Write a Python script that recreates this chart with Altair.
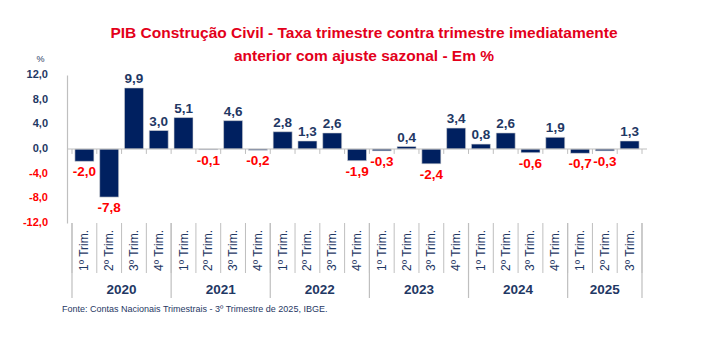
import altair as alt
import pandas as pd

years = ["2020", "2021", "2022", "2023", "2024", "2025"]
quarters_per_year = [4, 4, 4, 4, 4, 3]
quarter_names = ["1º Trim.", "2º Trim.", "3º Trim.", "4º Trim."]
values = [-2.0, -7.8, 9.9, 3.0,
          5.1, -0.1, 4.6, -0.2,
          2.8, 1.3, 2.6, -1.9,
          -0.3, 0.4, -2.4, 3.4,
          0.8, 2.6, -0.6, 1.9,
          -0.7, -0.3, 1.3]
y_ticks = [12, 8, 4, 0, -4, -8, -12]

FONT = "Liberation Sans Narrow, Arial Narrow, Liberation Sans, Arial, sans-serif"
NAVY = "#002060"
LBLUE = "#1F3864"
RED = "#FF0000"
GRAY = "#BFBFBF"

rows = []
year_rows = []
i = 0
for y, n in zip(years, quarters_per_year):
    start = i
    for q in range(n):
        rows.append({"pos": i + 0.5, "value": values[i], "quarter": quarter_names[q], "year": y})
        i += 1
    year_rows.append({"year": y, "mid": (start + i) / 2})
df = pd.DataFrame(rows)
ydf = pd.DataFrame(year_rows)
bdf = pd.DataFrame({"b": list(range(0, i + 1))})
year_bounds = [0]
acc = 0
for n in quarters_per_year:
    acc += n
    year_bounds.append(acc)
ybdf = pd.DataFrame({"b": year_bounds})
tdf = pd.DataFrame({"value": y_ticks})

H = 148
xscale = alt.Scale(domain=[0, i], nice=False, zero=False)
yscale = alt.Scale(domain=[-12, 12], nice=False)

fmt = "replace(replace(format(datum.value, '.1f'), '.', ','), '\u2212', '-')"

yaxis = alt.Axis(values=y_ticks, title="%", titleAngle=0, titleX=-27, titleY=-12,
                 titleFont=FONT, titleFontSize=9, titleFontWeight="normal", titleColor=LBLUE,
                 labels=False, ticks=False, grid=False, domainColor=GRAY, domainWidth=1.2)

base = alt.Chart(df)

bars = base.mark_bar(size=19, color=NAVY, stroke="#D9D9D9", strokeWidth=0.6, orient="vertical").encode(
    x=alt.X("pos:Q", scale=xscale, axis=None),
    y=alt.Y("value:Q", scale=yscale, axis=yaxis),
    y2=alt.datum(0),
)

ylabels = alt.Chart(tdf).transform_calculate(lbl=fmt).mark_text(
    align="right", baseline="middle", font=FONT, fontSize=11, fontWeight="bold"
).encode(
    x=alt.value(-19),
    y=alt.Y("value:Q", scale=yscale, axis=yaxis),
    text="lbl:N",
    color=alt.condition("datum.value < 0", alt.value(RED), alt.value(LBLUE)),
)

zero_line = alt.Chart(pd.DataFrame({"z": [0]})).mark_rule(color=GRAY, strokeWidth=1.2).encode(
    y=alt.Y("z:Q", scale=yscale, axis=yaxis),
    x=alt.value(0), x2=alt.value(580),
)

zero_ticks = alt.Chart(bdf).mark_rule(color=GRAY, strokeWidth=1).encode(
    x=alt.X("b:Q", scale=xscale, axis=None),
    y=alt.datum(0), y2=alt.datum(-0.8),
)

q_sep = alt.Chart(bdf).mark_rule(color=GRAY, strokeWidth=1).encode(
    x=alt.X("b:Q", scale=xscale, axis=None),
    y=alt.value(H), y2=alt.value(H + 50),
)
y_sep = alt.Chart(ybdf).mark_rule(color=GRAY, strokeWidth=1.2).encode(
    x=alt.X("b:Q", scale=xscale, axis=None),
    y=alt.value(H), y2=alt.value(H + 75),
)

pos_text = base.transform_filter("datum.value >= 0").transform_calculate(lbl=fmt).mark_text(
    baseline="bottom", dy=-2, font=FONT, fontSize=13.5, fontWeight="bold", color=LBLUE
).encode(x=alt.X("pos:Q", scale=xscale, axis=None), y=alt.Y("value:Q", scale=yscale, axis=yaxis), text="lbl:N")
neg_text = base.transform_filter("datum.value < 0").transform_calculate(lbl=fmt).mark_text(
    baseline="top", dy=4, font=FONT, fontSize=13.5, fontWeight="bold", color=RED
).encode(x=alt.X("pos:Q", scale=xscale, axis=None), y=alt.Y("value:Q", scale=yscale, axis=yaxis), text="lbl:N")

q_text = base.mark_text(angle=270, align="left", baseline="middle", font=FONT, fontSize=12,
                        color=LBLUE).encode(
    x=alt.X("pos:Q", scale=xscale, axis=None), y=alt.value(H + 48), text="quarter:N")

yr_text = alt.Chart(ydf).mark_text(baseline="middle", font=FONT, fontSize=13.5, fontWeight="bold",
                                   color=LBLUE).encode(
    x=alt.X("mid:Q", scale=xscale, axis=None), y=alt.value(H + 67), text="year:N")

footer = alt.Chart(pd.DataFrame({"t": ["Fonte: Contas Nacionais Trimestrais - 3º Trimestre de 2025, IBGE."]})).mark_text(
    align="left", baseline="middle", font=FONT, fontSize=9, color=LBLUE
).encode(x=alt.value(-5), y=alt.value(H + 86), text="t:N")

chart = alt.layer(bars, ylabels, zero_line, zero_ticks, q_sep, y_sep, pos_text, neg_text, q_text, yr_text, footer).properties(
    width=580, height=H,
    title=alt.TitleParams(
        ["PIB Construção Civil - Taxa trimestre contra trimestre imediatamente",
         "anterior com ajuste sazonal  - Em %"],
        font=FONT, fontSize=15.5, fontWeight="bold", color="#E3001B", anchor="middle",
        lineHeight=22.5, offset=14, dy=24, dx=7),
    autosize=alt.AutoSizeParams(type="none"),
    padding={"left": 67, "top": 75, "right": 57, "bottom": 130},
).configure(background="white").configure_view(stroke=None)

chart.save("out.html", embed_options={"renderer": "svg", "actions": False})
